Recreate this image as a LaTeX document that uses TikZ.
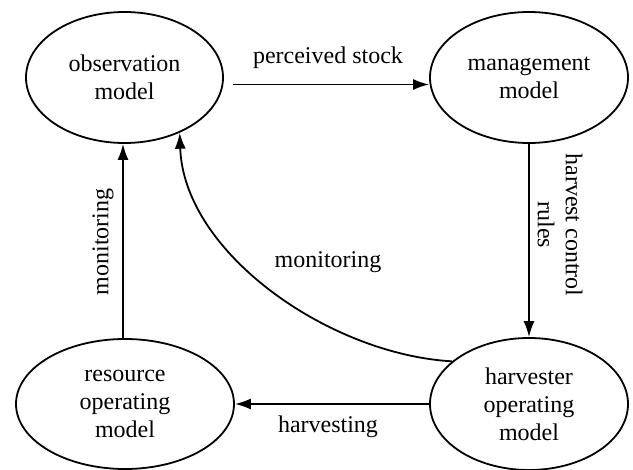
\documentclass[tikz,border=0pt]{standalone}
\usepackage{fontspec}
\setmainfont{Liberation Serif}
\usetikzlibrary{shapes.geometric,arrows.meta}
\begin{document}
\begin{tikzpicture}[x=0.5pt,y=-0.5pt,
  model/.style={draw, ellipse, line width=0.9pt, align=center, inner sep=0pt,
    font=\fontsize{12}{14}\selectfont},
  conn/.style={line width=0.9pt, -{Latex[length=8pt,width=5.5pt]}},
  lbl/.style={font=\fontsize{12}{14}\selectfont, align=center, inner sep=0pt}]
\useasboundingbox (0,0) rectangle (633,470);
\node[model, minimum width=98.5pt, minimum height=65.5pt] (obs) at (124.5,77.5) {observation\\model};
\node[model, minimum width=99pt, minimum height=65.5pt] (man) at (529,77.5) {management\\model};
\node[model, minimum width=109pt, minimum height=65pt] (res) at (125,404) {resource\\operating\\model};
\node[model, minimum width=99pt, minimum height=66pt] (harv) at (529,404) {harvester\\operating\\model};
\draw[conn] (obs.east) ++(9,7) coordinate (ps) -- (ps -| man.west);
\draw[conn] (man) -- (harv);
\draw[conn] (harv) -- (res);
\draw[conn] (res.north -| 123,0) -- (obs.south -| 123,0);
\draw[conn] (harv.151) .. controls +(-123,-7) and +(4,120) .. (obs.-45);
\node[lbl] (l1) at (328,58) {perceived stock};
\node[lbl] (l2) at (328,427) {harvesting};
\node[lbl] (l3) at (328,262) {monitoring};
\node[lbl, rotate=90] (l4) at (103,242) {monitoring};
\node[lbl, rotate=-90] (l5) at (560,225) {harvest control\\rules};
\end{tikzpicture}
\end{document}
